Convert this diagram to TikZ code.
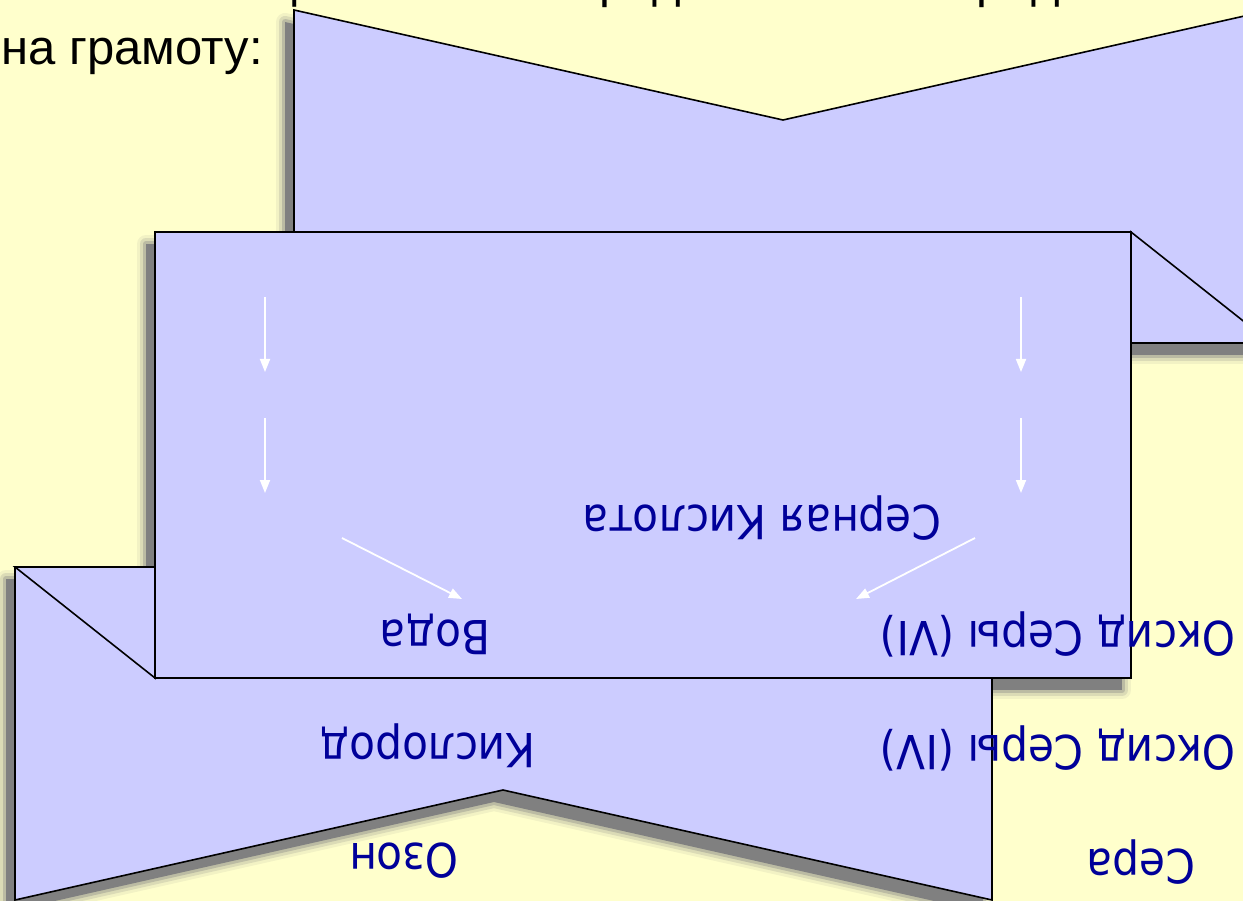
\documentclass[tikz,border=0pt]{standalone}
\usepackage{fontspec}
\setmainfont{Liberation Sans}
\newfontfamily\lblfont{DejaVu Sans Condensed}
\usetikzlibrary{arrows.meta}
\definecolor{bgyel}{HTML}{FFFFCC}
\definecolor{lav}{HTML}{CCCCFF}
\definecolor{navyblue}{HTML}{000099}
\newcommand\ribshadow[1]{%
 \begin{scope}[xshift=-9pt,yshift=-12pt]
  \draw[black!50,line width=18pt,opacity=.10,line join=round] #1;
  \draw[black!50,line width=12pt,opacity=.2,line join=round] #1;
  \draw[black!50,line width=6pt,opacity=.35,line join=round] #1;
  \fill[black!50] #1;
 \end{scope}}
\begin{document}
\begin{tikzpicture}[x=1pt,y=-1pt,
  part/.style={fill=lav, draw=black, line width=1.6pt, line join=miter},
  lbl/.style={text=navyblue, font=\lblfont\fontsize{47}{47}\selectfont, rotate=180, inner sep=0pt},
  warrow/.style={draw=white, line width=1.8pt, -{Triangle[width=10pt,length=13pt]}}
]
\useasboundingbox (0,0) rectangle (1243,901);
\fill[bgyel] (0,0) rectangle (1243,901);
\clip (0,0) rectangle (1243,901);

% text of the slide
\node[anchor=base west, inner sep=0pt, font=\fontsize{49}{49}\selectfont] (line1) at (-4,-2) {Какие из веществ можно представить к награде};
\node[anchor=base east, inner sep=0pt, font=\fontsize{49}{49}\selectfont] (line2) at (263,65) {на грамоту:};

% shadows of the ribbon
\ribshadow{(294,10) -- (783,120) -- (1271,10) -- (1271,343) -- (294,343) -- cycle}
\ribshadow{(15,567) -- (992,567) -- (992,900) -- (503,790) -- (15,900) -- cycle}
\ribshadow{(155,232) rectangle (1131,678)}

% ribbon ends
\draw[part] (294,10) -- (783,120) -- (1271,10) -- (1271,343) -- (294,343) -- cycle;
\draw[part] (15,567) -- (992,567) -- (992,900) -- (503,790) -- (15,900) -- cycle;
% folds
\draw[part] (1131,232) -- (1271,343) -- (1131,343) -- cycle;
\draw[part] (155,678) -- (15,567) -- (155,567) -- cycle;
% centre panel
\draw[part] (155,232) rectangle (1131,678);

% labels
\node[lbl] (sk) at (762,518) {Серная Кислота};
\node[lbl] (voda) at (435,634) {Вода};
\node[lbl] (os6) at (1058,634) {Оксид Серы (VI)};
\node[lbl] (kisl) at (428,746) {Кислород};
\node[lbl] (os4) at (1058,748) {Оксид Серы (IV)};
\node[lbl] (ozon) at (404,861) {Озон};
\node[lbl] (sera) at (1141,862) {Сера};

% white arrows
\coordinate (l1a) at (265,297); \coordinate (l1b) at (265,372);
\coordinate (l2a) at (265,418); \coordinate (l2b) at (265,493);
\coordinate (r1a) at (1021,297); \coordinate (r1b) at (1021,372);
\coordinate (r2a) at (1021,418); \coordinate (r2b) at (1021,493);
\coordinate (dla) at (342,538); \coordinate (dlb) at (462,599);
\coordinate (dra) at (975,538); \coordinate (drb) at (856,599);
\draw[warrow] (l1a) -- (l1b);
\draw[warrow] (l2a) -- (l2b);
\draw[warrow] (r1a) -- (r1b);
\draw[warrow] (r2a) -- (r2b);
\draw[warrow] (dla) -- (dlb);
\draw[warrow] (dra) -- (drb);
\end{tikzpicture}
\end{document}
